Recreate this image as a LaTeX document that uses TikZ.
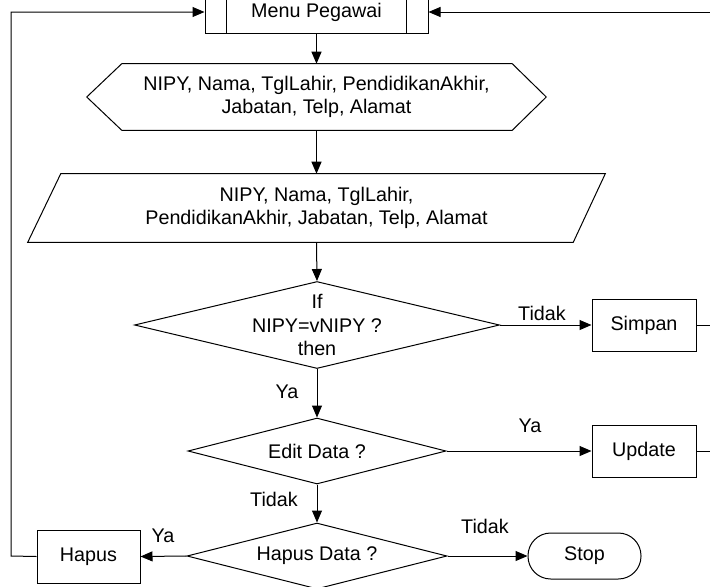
\documentclass[tikz,border=0pt]{standalone}
\usepackage{fontspec}
\setmainfont{Liberation Sans}
\usetikzlibrary{shapes.geometric,arrows.meta,calc}
\begin{document}
\begin{tikzpicture}[x=0.75pt,y=-0.75pt,
  every node/.style={font=\fontsize{14.8}{17.5}\selectfont, inner sep=0pt},
  ln/.style={line width=0.75pt},
  flow/.style={ln, -{Triangle[length=9pt,width=7.5pt]}},
  procbox/.style={draw, ln, minimum width=78pt, minimum height=39pt},
  decision/.style={draw, ln, diamond, inner sep=0pt}
]
\useasboundingbox (0,0) rectangle (710,586);

% predefined process: Menu Pegawai
\node[draw, ln, minimum width=167.25pt, minimum height=31.5pt] (menu) at (316.5,12) {Menu Pegawai};
\draw[ln] ($(menu.north west)+(22,0)$) -- ($(menu.south west)+(22,0)$);
\draw[ln] ($(menu.north east)+(-22,0)$) -- ($(menu.south east)+(-22,0)$);

% display (hexagon)
\node[minimum width=344.25pt, minimum height=49.5pt, align=center] (hex) at (316.5,97)
  {NIPY, Nama, TglLahir, PendidikanAkhir,\\Jabatan, Telp, Alamat};
\draw[ln] (hex.west) -- ($(hex.north west)+(35,0)$) -- ($(hex.north east)+(-34,0)$)
  -- (hex.east) -- ($(hex.south east)+(-34,0)$) -- ($(hex.south west)+(35,0)$) -- cycle;

% input (parallelogram)
\node[minimum width=432.75pt, minimum height=51pt, align=center] (par) at (316.5,208)
  {NIPY, Nama, TglLahir,\\PendidikanAkhir, Jabatan, Telp, Alamat};
\draw[ln] ($(par.north west)+(33,0)$) -- (par.north east) -- ($(par.south east)+(-32,0)$)
  -- (par.south west) -- cycle;

% decisions
\node[decision, minimum width=273.75pt, minimum height=65.25pt] (d1) at (317,325) {};
\node[align=center] (d1t) at (d1) {If\\NIPY=vNIPY ?\\then};
\node[decision, minimum width=193.5pt, minimum height=49.5pt] (d2) at (317,451) {};
\node (d2t) at (d2) {Edit Data ?};
\node[decision, minimum width=195pt, minimum height=49.5pt] (d3) at (317,556) {};
\node (d3t) at (d3) {Hapus Data ?};

% processes
\node[procbox] (simpan) at (644,325) {Simpan};
\node[procbox] (update) at (644,451) {Update};
\node[procbox, minimum width=77.25pt, minimum height=39.75pt] (hapus) at (88.5,556.5) {Hapus};
\node[draw, ln, rounded corners=17pt, minimum width=84.75pt, minimum height=34.5pt] (stop) at (584.5,556) {Stop};

% main flow
\draw[flow] (menu.south) -- (hex.north);
\draw[flow] (hex.south) -- (par.north);
\draw[flow] (par.south) -- (d1.north);
\draw[flow] (d1.south) -- (d2.north);
\draw[flow] (d2.south) -- (d3.north);
\draw[flow] (d1.east) -- (simpan.west);
\draw[flow] (d2.east) -- (update.west);
\draw[flow] (d3.west) -- (hapus.east);
\draw[flow] (d3.east) -- (stop.west);

% branch labels
\node (l1) at (542,313) {Tidak};
\node (l2) at (287,392) {Ya};
\node (l3) at (530,426) {Ya};
\node (l4) at (274,499) {Tidak};
\node (l5) at (163,536) {Ya};
\node (l6) at (485,526) {Tidak};

% loops back to the menu
\coordinate (lb) at (11,556);
\coordinate (lt) at (11,12);
\coordinate (rt) at (716,12);
\coordinate (rs) at (716,325);
\coordinate (ru) at (716,451);
\draw[flow] (hapus.west) -- (lb) -- (lt) -- (menu.west);
\draw[flow] (simpan.east) -- (rs) -- (rt) -- (menu.east);
\draw[ln] (update.east) -- (ru) -- (rs);
\end{tikzpicture}
\end{document}
